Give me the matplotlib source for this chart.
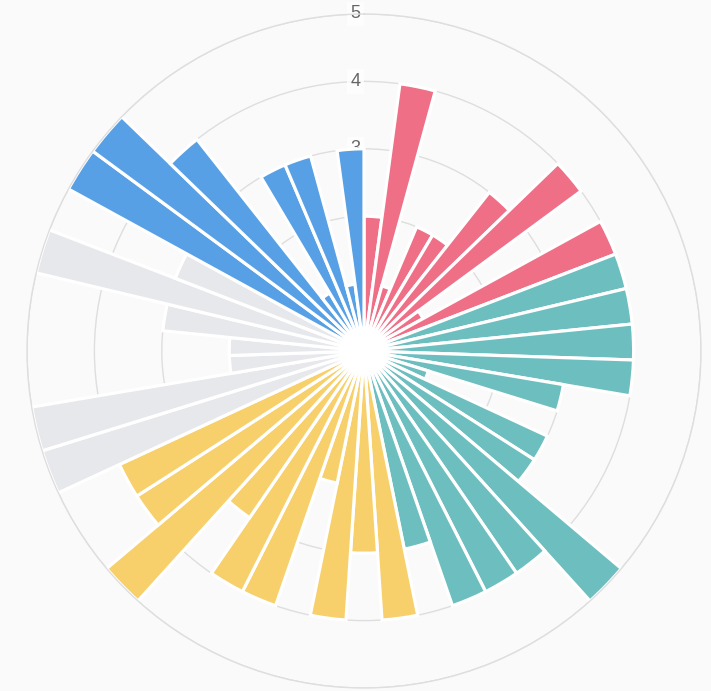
import numpy as np
import matplotlib
matplotlib.use("Agg")
import matplotlib.pyplot as plt

# values per slice, clockwise from the top, grouped by colour
red_vals = [2, 4, 1, 2, 2, 3, 4, 1, 4]
teal_vals = [4, 4, 4, 4, 3, 1, 3, 3, 5, 4, 4, 4, 3]
yellow_vals = [4, 3, 4, 2, 4, 4, 3, 5, 4, 4]
gray_vals = [5, 5, 2, 2, 3, 5, 3]
blue_vals = [5, 5, 4, 1, 3, 3, 1, 3]

groups = [
    (red_vals, "#EF6F87"),
    (teal_vals, "#6DBEBF"),
    (yellow_vals, "#F7D06B"),
    (gray_vals, "#E7E8EC"),
    (blue_vals, "#58A0E5"),
]
tick_vals = [1, 2, 3, 4, 5]
tick_labels = ["3", "4", "5"]

values = []
colors = []
for vals, col in groups:
    values += vals
    colors += [col] * len(vals)

n = len(values)
width = 2 * np.pi / n
theta = np.arange(n) * width + width / 2

bg = "#FAFAFA"
fig = plt.figure(figsize=(7.11, 6.91), dpi=100, facecolor=bg)
cx, cy, R = 364, 351, 337
ax = fig.add_axes([(cx - R) / 711, (691 - cy - R) / 691, 2 * R / 711, 2 * R / 691],
                  projection="polar")
ax.set_facecolor(bg)
ax.set_theta_zero_location("N")
ax.set_theta_direction(-1)
ax.set_axisbelow(True)

ax.bar(theta, values, width=width, color=colors, edgecolor="white",
       linewidth=2.3, zorder=2)

ax.set_ylim(0, 5)
ax.set_yticks(tick_vals)
ax.set_yticklabels([])
ax.set_xticks([])
ax.yaxis.grid(True, color="#DEDEDE", linewidth=1)
ax.spines["polar"].set_color("#DEDEDE")
ax.spines["polar"].set_linewidth(1)

for lab in tick_labels:
    ax.annotate(lab, xy=(0, float(lab)), xytext=(-6, 0), textcoords="offset points",
                ha="center", va="center", fontsize=13, color="#666666", zorder=1,
                family=["Liberation Sans", "DejaVu Sans"],
                bbox=dict(boxstyle="square,pad=0.2", facecolor="white",
                          edgecolor="none", alpha=0.75),
                annotation_clip=False)

fig.savefig("out.png", dpi=100, facecolor=bg)
